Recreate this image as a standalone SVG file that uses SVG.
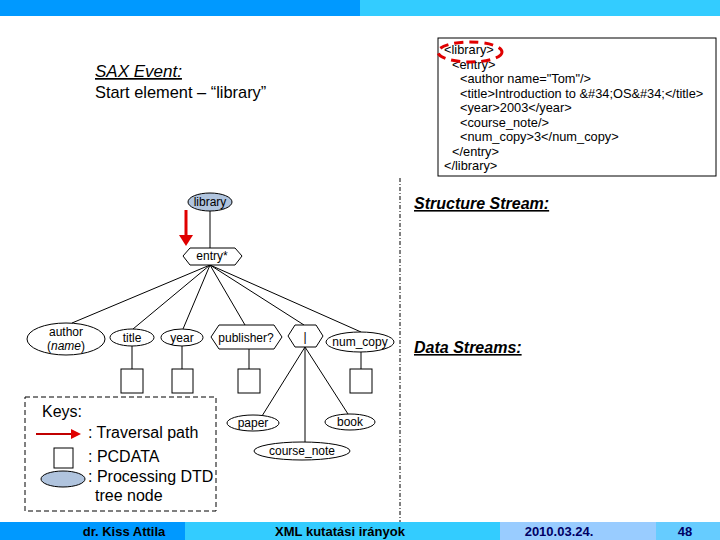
<svg xmlns="http://www.w3.org/2000/svg" width="720" height="540" viewBox="0 0 720 540">
<defs>
<style>
text{font-family:"Liberation Sans",Arial,sans-serif;fill:#000}
.xml{font-size:12.8px}
.lbl{font-size:12px}
.head{font-size:16px;font-style:italic;text-decoration:underline}
.key{font-size:16px}
.foot{font-size:13px;font-weight:bold;text-anchor:middle}
.edge{stroke:#000;stroke-width:1;fill:none}
.node{stroke:#000;stroke-width:1;fill:#fff}
.cur{stroke:#000;stroke-width:1;fill:#B0C4DE}
.box{stroke:#000;stroke-width:1;fill:#fff}
.red{stroke:#E00000;stroke-width:3;fill:none}
</style>
</defs>
<rect width="720" height="540" fill="#fff"/>
<g id="topbar">
<rect x="0" y="0" width="360" height="16" fill="#0099FF"/>
<rect x="360" y="0" width="360" height="16" fill="#33CCFF"/>
</g>

<g id="sax">
<text x="95" y="77" class="head" style="font-size:17px">SAX Event:</text>
<text x="95" y="98" style="font-size:16.4px">Start element – “library”</text>
</g>

<g id="xmlbox">
<rect x="438" y="38" width="278" height="138" fill="#fff" stroke="#000" stroke-width="1"/>
<text class="xml" x="444" y="54">&lt;library&gt;</text>
<text class="xml" x="452" y="69">&lt;entry&gt;</text>
<text class="xml" x="460" y="83">&lt;author name="Tom"/&gt;</text>
<text class="xml" x="460" y="98">&lt;title&gt;Introduction to &amp;#34;OS&amp;#34;&lt;/title&gt;</text>
<text class="xml" x="460" y="112">&lt;year&gt;2003&lt;/year&gt;</text>
<text class="xml" x="460" y="127">&lt;course_note/&gt;</text>
<text class="xml" x="460" y="141">&lt;num_copy&gt;3&lt;/num_copy&gt;</text>
<text class="xml" x="452" y="156">&lt;/entry&gt;</text>
<text class="xml" x="444" y="170">&lt;/library&gt;</text>
<ellipse cx="470" cy="52" rx="32" ry="10" fill="none" stroke="#E00000" stroke-width="3" stroke-dasharray="9,6"/>
</g>

<line x1="400" y1="178" x2="400" y2="536" stroke="#000" stroke-width="1" stroke-dasharray="4,2,1,2"/>
<text x="414" y="209" class="head" style="font-weight:bold">Structure Stream:</text>
<text x="414" y="353" class="head" style="font-weight:bold">Data Streams:</text>

<g id="connectors">
<line class="edge" x1="210" y1="211" x2="210" y2="248"/>
<line class="edge" x1="210" y1="265" x2="72" y2="323"/>
<line class="edge" x1="210" y1="265" x2="133" y2="329"/>
<line class="edge" x1="210" y1="265" x2="183" y2="329"/>
<line class="edge" x1="210" y1="265" x2="245" y2="325"/>
<line class="edge" x1="210" y1="265" x2="304" y2="325"/>
<line class="edge" x1="210" y1="265" x2="361" y2="332"/>
<line class="edge" x1="132" y1="346" x2="132" y2="369"/>
<line class="edge" x1="182" y1="346" x2="182" y2="369"/>
<line class="edge" x1="249" y1="349" x2="249" y2="369"/>
<line class="edge" x1="361" y1="352" x2="361" y2="369"/>
<line class="edge" x1="305" y1="347" x2="262" y2="416"/>
<line class="edge" x1="305" y1="347" x2="305" y2="442"/>
<line class="edge" x1="305" y1="347" x2="348" y2="414"/>
<line class="red" x1="186" y1="210" x2="186" y2="236"/>
<path d="M179,235 L193,235 L186,246 z" fill="#E00000"/>
</g>

<g id="n-library">
<ellipse class="cur" cx="210" cy="202" rx="22" ry="9"/>
<text class="lbl" x="210" y="206" text-anchor="middle">library</text>
</g>
<g id="n-entry">
<polygon class="node" points="183,256 190,248 235,248 242,256 235,265 190,265"/>
<text class="lbl" x="212" y="260" text-anchor="middle">entry*</text>
</g>
<g id="n-author">
<ellipse class="node" cx="66" cy="339" rx="39" ry="16"/>
<text class="lbl" x="66" y="336" text-anchor="middle">author</text>
<text class="lbl" x="66" y="350" text-anchor="middle">(<tspan font-style="italic">name</tspan>)</text>
</g>
<g id="n-title">
<ellipse class="node" cx="132" cy="337.5" rx="22" ry="8.5"/>
<text class="lbl" x="132" y="342" text-anchor="middle">title</text>
</g>
<g id="n-year">
<ellipse class="node" cx="182" cy="337.5" rx="21" ry="8.5"/>
<text class="lbl" x="182" y="342" text-anchor="middle">year</text>
</g>
<g id="n-publisher">
<polygon class="node" points="211,337 219,325 274,325 282,337 274,349 219,349"/>
<text class="lbl" x="246" y="342" text-anchor="middle">publisher?</text>
</g>
<g id="n-choice">
<polygon class="node" points="288,336 295,325 316,325 323,336 316,347 295,347"/>
<text class="lbl" x="305" y="341" text-anchor="middle">|</text>
</g>
<g id="n-numcopy">
<ellipse class="node" cx="360" cy="342" rx="34" ry="10"/>
<text class="lbl" x="360" y="346" text-anchor="middle">num_copy</text>
</g>
<g id="d-title"><rect class="box" x="121" y="369" width="22" height="24"/></g>
<g id="d-year"><rect class="box" x="172" y="369" width="21" height="24"/></g>
<g id="d-publisher"><rect class="box" x="238" y="369" width="22" height="24"/></g>
<g id="d-numcopy"><rect class="box" x="350" y="369" width="22" height="24"/></g>
<g id="n-paper">
<ellipse class="node" cx="253" cy="423" rx="26" ry="8"/>
<text class="lbl" x="253" y="427" text-anchor="middle">paper</text>
</g>
<g id="n-book">
<ellipse class="node" cx="350" cy="422" rx="25" ry="8"/>
<text class="lbl" x="350" y="426" text-anchor="middle">book</text>
</g>
<g id="n-coursenote">
<ellipse class="node" cx="302" cy="451" rx="48" ry="9"/>
<text class="lbl" x="302" y="455" text-anchor="middle">course_note</text>
</g>

<g id="keys">
<rect x="25" y="397" width="191" height="114" fill="none" stroke="#000" stroke-width="1" stroke-dasharray="5,3"/>
<text class="key" x="42" y="417">Keys:</text>
<line x1="36" y1="434" x2="73" y2="434" stroke="#C00000" stroke-width="2"/>
<path d="M71,429 L81,434 L71,439 z" fill="#E00000"/>
<text class="key" x="88" y="438">: Traversal path</text>
<rect class="box" x="54" y="448" width="19" height="20"/>
<text class="key" x="88" y="462">: PCDATA</text>
<ellipse class="cur" cx="63" cy="479" rx="22" ry="8"/>
<text class="key" x="88" y="482">: Processing DTD</text>
<text class="key" x="95" y="501">tree node</text>
</g>

<g id="footer">
<rect x="0" y="522" width="185" height="18" fill="#0099FF"/>
<rect x="185" y="522" width="315" height="18" fill="#33CCFF"/>
<rect x="500" y="522" width="156" height="18" fill="#99CCFF"/>
<rect x="656" y="522" width="64" height="18" fill="#66CCFF"/>
<text class="foot" x="124" y="536">dr. Kiss Attila</text>
<text class="foot" x="340" y="536">XML kutatási irányok</text>
<text class="foot" x="559" y="536" style="fill:#000066">2010.03.24.</text>
<text class="foot" x="685" y="536" style="fill:#000066">48</text>
</g>
</svg>
